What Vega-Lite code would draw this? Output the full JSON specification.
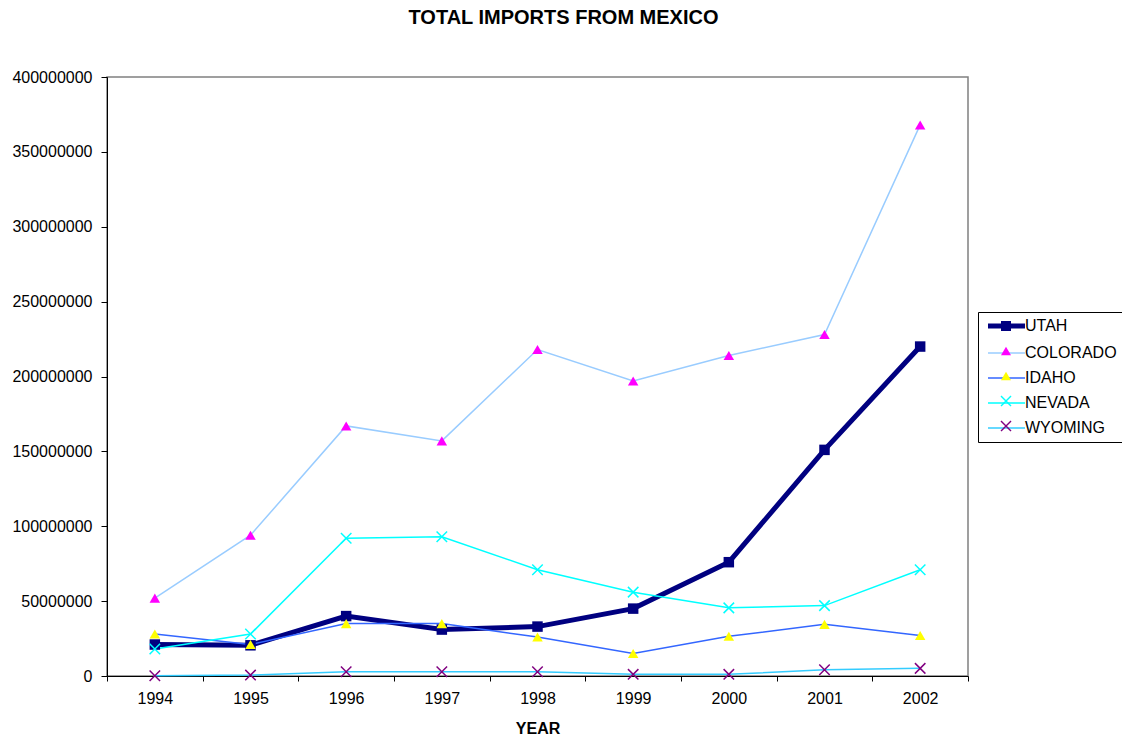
{
  "$schema": "https://vega.github.io/schema/vega-lite/v6.json",
  "width": 861,
  "height": 599,
  "autosize": "none",
  "padding": {"left": 107, "top": 77, "right": 154, "bottom": 59},
  "background": "white",
  "title": {
    "text": "TOTAL IMPORTS FROM MEXICO",
    "font": "Liberation Sans",
    "fontSize": 20,
    "fontWeight": "bold",
    "color": "black",
    "anchor": "middle",
    "dx": 26,
    "offset": 41
  },
  "config": {
    "font": "Liberation Sans",
    "view": {"stroke": "#808080", "strokeWidth": 1.5},
    "axis": {
      "grid": false,
      "domainColor": "black",
      "tickColor": "black",
      "labelColor": "black",
      "titleColor": "black",
      "labelFontSize": 16,
      "labelFont": "Liberation Sans"
    }
  },
  "data": {
    "values": [
      {"state": "UTAH", "year": 1994, "imports": 21000000},
      {"state": "UTAH", "year": 1995, "imports": 20500000},
      {"state": "UTAH", "year": 1996, "imports": 40000000},
      {"state": "UTAH", "year": 1997, "imports": 31000000},
      {"state": "UTAH", "year": 1998, "imports": 33000000},
      {"state": "UTAH", "year": 1999, "imports": 45000000},
      {"state": "UTAH", "year": 2000, "imports": 76000000},
      {"state": "UTAH", "year": 2001, "imports": 151000000},
      {"state": "UTAH", "year": 2002, "imports": 220000000},
      {"state": "COLORADO", "year": 1994, "imports": 52000000},
      {"state": "COLORADO", "year": 1995, "imports": 94000000},
      {"state": "COLORADO", "year": 1996, "imports": 167000000},
      {"state": "COLORADO", "year": 1997, "imports": 157000000},
      {"state": "COLORADO", "year": 1998, "imports": 218000000},
      {"state": "COLORADO", "year": 1999, "imports": 197000000},
      {"state": "COLORADO", "year": 2000, "imports": 214000000},
      {"state": "COLORADO", "year": 2001, "imports": 228000000},
      {"state": "COLORADO", "year": 2002, "imports": 368000000},
      {"state": "IDAHO", "year": 1994, "imports": 28000000},
      {"state": "IDAHO", "year": 1995, "imports": 21000000},
      {"state": "IDAHO", "year": 1996, "imports": 35000000},
      {"state": "IDAHO", "year": 1997, "imports": 35000000},
      {"state": "IDAHO", "year": 1998, "imports": 26000000},
      {"state": "IDAHO", "year": 1999, "imports": 15000000},
      {"state": "IDAHO", "year": 2000, "imports": 26500000},
      {"state": "IDAHO", "year": 2001, "imports": 34500000},
      {"state": "IDAHO", "year": 2002, "imports": 27000000},
      {"state": "NEVADA", "year": 1994, "imports": 18000000},
      {"state": "NEVADA", "year": 1995, "imports": 28000000},
      {"state": "NEVADA", "year": 1996, "imports": 92000000},
      {"state": "NEVADA", "year": 1997, "imports": 93000000},
      {"state": "NEVADA", "year": 1998, "imports": 71000000},
      {"state": "NEVADA", "year": 1999, "imports": 56000000},
      {"state": "NEVADA", "year": 2000, "imports": 45500000},
      {"state": "NEVADA", "year": 2001, "imports": 47000000},
      {"state": "NEVADA", "year": 2002, "imports": 71000000},
      {"state": "WYOMING", "year": 1994, "imports": 200000},
      {"state": "WYOMING", "year": 1995, "imports": 600000},
      {"state": "WYOMING", "year": 1996, "imports": 2900000},
      {"state": "WYOMING", "year": 1997, "imports": 2900000},
      {"state": "WYOMING", "year": 1998, "imports": 2900000},
      {"state": "WYOMING", "year": 1999, "imports": 1100000},
      {"state": "WYOMING", "year": 2000, "imports": 1100000},
      {"state": "WYOMING", "year": 2001, "imports": 4200000},
      {"state": "WYOMING", "year": 2002, "imports": 5100000}
    ]
  },
  "encoding": {
    "x": {
      "field": "year",
      "type": "ordinal",
      "bandPosition": 0.5,
      "scale": {"type": "band", "paddingInner": 0, "paddingOuter": 0},
      "axis": {
        "title": "YEAR",
        "titleFontSize": 16,
        "titleFontWeight": "bold",
        "titlePadding": 14,
        "labelAngle": 0,
        "tickBand": "extent",
        "tickSize": 5,
        "labelPadding": 9
      }
    },
    "y": {
      "field": "imports",
      "type": "quantitative",
      "scale": {"domain": [0, 400000000], "nice": false},
      "axis": {
        "title": null,
        "values": [0, 50000000, 100000000, 150000000, 200000000, 250000000, 300000000, 350000000, 400000000],
        "format": "d",
        "tickSize": 6,
        "labelPadding": 9
      }
    }
  },
  "layer": [
    {
      "mark": {"type": "line", "strokeJoin": "miter"},
      "encoding": {
        "stroke": {
          "field": "state",
          "type": "nominal",
          "scale": {
            "domain": ["UTAH", "COLORADO", "IDAHO", "NEVADA", "WYOMING"],
            "range": ["#000080", "#99CCFF", "#3366FF", "#00FFFF", "#33CCFF"]
          },
          "legend": {
            "orient": "none",
            "legendX": 871,
            "legendY": 235,
            "title": null,
            "symbolType": "M-0.8,0L6.6,0",
            "symbolSize": 100,
            "labelFontSize": 16,
            "labelColor": "black",
            "labelOffset": 25,
            "padding": 6,
            "rowPadding": 9,
            "strokeColor": "black",
            "fillColor": "white",
            "zindex": 1
          }
        },
        "strokeWidth": {
          "field": "state",
          "type": "ordinal",
          "scale": {
            "type": "ordinal",
            "domain": ["UTAH", "COLORADO", "IDAHO", "NEVADA", "WYOMING"],
            "range": [5, 1.5, 1.5, 1.5, 1.5]
          },
          "legend": {
            "orient": "none",
            "legendX": 871,
            "legendY": 235,
            "title": null,
            "symbolType": "M-0.8,0L6.6,0",
            "symbolSize": 100,
            "labelFontSize": 16,
            "labelColor": "black",
            "labelOffset": 25,
            "padding": 6,
            "rowPadding": 9,
            "strokeColor": "black",
            "fillColor": "white",
            "zindex": 1
          }
        }
      }
    },
    {
      "mark": {"type": "point", "filled": true, "size": 110, "opacity": 1, "strokeWidth": 0},
      "encoding": {
        "fill": {
          "field": "state",
          "type": "nominal",
          "sort": null,
          "scale": {"range": ["#000080", "#FF00FF", "#FFFF00", "#00FFFF", "#800080"]},
          "legend": {
            "orient": "none",
            "legendX": 871,
            "legendY": 235,
            "title": null,
            "symbolSize": 100,
            "symbolOffset": 14,
            "symbolOpacity": 1,
            "symbolStrokeWidth": 0,
            "labelFontSize": 16,
            "labelExpr": "''",
            "padding": 6,
            "rowPadding": 9,
            "zindex": 2
          }
        },
        "shape": {
          "field": "state",
          "type": "nominal",
          "sort": null,
          "scale": {
            "range": [
              "square",
              "triangle-up",
              "triangle-up",
              "M-0.9,-1.1L1.1,0.9L0.9,1.1L-1.1,-0.9Z M-1.1,0.9L0.9,-1.1L1.1,-0.9L-0.9,1.1Z",
              "M-0.9,-1.1L1.1,0.9L0.9,1.1L-1.1,-0.9Z M-1.1,0.9L0.9,-1.1L1.1,-0.9L-0.9,1.1Z"
            ]
          },
          "legend": {
            "orient": "none",
            "legendX": 871,
            "legendY": 235,
            "title": null,
            "symbolSize": 100,
            "symbolOffset": 14,
            "symbolOpacity": 1,
            "symbolStrokeWidth": 0,
            "labelFontSize": 16,
            "labelExpr": "''",
            "padding": 6,
            "rowPadding": 9,
            "zindex": 2
          }
        }
      }
    }
  ]
}
